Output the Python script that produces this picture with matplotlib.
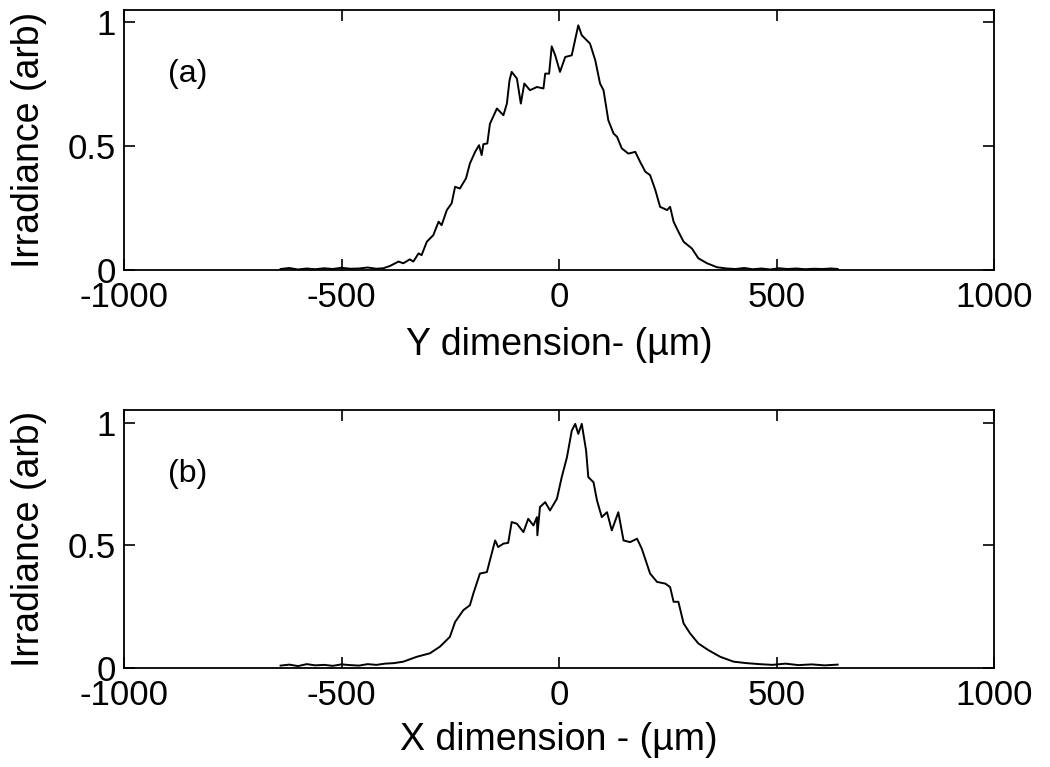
import matplotlib.pyplot as plt

plt.rcParams['font.family'] = ['Liberation Sans', 'DejaVu Sans']
plt.rcParams['axes.unicode_minus'] = False

# beam profile along Y (panel a)
y_pos = [-640, -620, -600, -580, -560, -540, -520, -500, -480, -460, -440, -420, -404,
         -389, -369, -358, -343, -335, -323, -316, -304, -289, -277, -270, -258, -247,
         -239, -228, -214, -205, -193, -184, -178, -174, -165, -159, -143, -128, -120,
         -114, -109, -97, -88, -80, -67, -51, -36,
         -32, -23, -17, -9, 2, 14, 29, 44, 52, 71, 83, 94, 102, 113, 125, 133, 144, 159,
         175, 186, 198, 209, 221, 232, 248, 255, 263, 274, 286, 305, 320, 340, 363,
         385, 405, 425, 445, 465, 485, 505, 525, 545, 565, 585, 605, 625, 640]
y_irr = [0.004, 0.008, 0.002, 0.006, 0.003, 0.007, 0.004, 0.009, 0.005, 0.006, 0.010, 0.005, 0.007,
         0.016, 0.034, 0.027, 0.043, 0.034, 0.067, 0.060, 0.114, 0.141, 0.195, 0.181, 0.242, 0.269,
         0.336, 0.329, 0.370, 0.430, 0.477, 0.504, 0.464, 0.508, 0.511, 0.590, 0.652, 0.625, 0.672,
         0.766, 0.800, 0.773, 0.672, 0.753, 0.726, 0.739, 0.733,
         0.793, 0.793, 0.903, 0.867, 0.800, 0.860, 0.867, 0.988, 0.948, 0.914, 0.847, 0.753, 0.726, 0.605, 0.551, 0.538, 0.491, 0.470,
         0.477, 0.437, 0.397, 0.383, 0.323, 0.255, 0.242, 0.255, 0.195, 0.155, 0.114, 0.087, 0.047, 0.027, 0.011,
         0.006, 0.004, 0.008, 0.003, 0.006, 0.002, 0.007, 0.004, 0.006, 0.003, 0.005, 0.004, 0.006, 0.004]

# beam profile along X (panel b)
x_pos = [-640, -620, -600, -580, -560, -540, -520, -500, -480, -460, -440, -420, -400, -380,
         -358, -327, -297, -274, -251, -239, -220, -205, -197, -182, -166, -159, -147, -140,
         -128, -117, -109, -97, -82, -71, -59, -51, -50, -44, -32, -21, -5, 6, 18, 29, 37,
         44, 52, 62, 67, 79, 87, 98, 110, 121, 136, 148, 163, 179, 190, 209, 225, 244, 255,
         263, 274, 286, 301, 320, 343, 370, 401, 431, 460, 490, 520, 550, 580, 610, 640]
x_irr = [0.010, 0.014, 0.008, 0.016, 0.011, 0.013, 0.009, 0.015, 0.012, 0.010, 0.016, 0.013, 0.018, 0.020,
         0.026, 0.046, 0.060, 0.087, 0.127, 0.188, 0.236, 0.256, 0.304, 0.385, 0.391, 0.439, 0.520, 0.493,
         0.507, 0.510, 0.595, 0.588, 0.554, 0.608, 0.581, 0.615, 0.541, 0.656, 0.676, 0.642, 0.690, 0.778, 0.859, 0.967, 0.995,
         0.954, 0.995, 0.886, 0.778, 0.757, 0.683, 0.615, 0.635, 0.561, 0.635, 0.520, 0.513, 0.527, 0.486, 0.385, 0.351, 0.344, 0.330,
         0.270, 0.270, 0.182, 0.141, 0.100, 0.073, 0.046, 0.026, 0.020, 0.016, 0.013, 0.018, 0.012, 0.015, 0.011, 0.014]

fig = plt.figure(figsize=(10.5, 7.67), dpi=100)
ax1 = fig.add_axes([0.118, 0.648, 0.829, 0.339])
ax2 = fig.add_axes([0.118, 0.129, 0.829, 0.336])

panels = [(ax1, y_pos, y_irr, 'Y dimension- (\u00b5m)', '(a)', -0.288),
          (ax2, x_pos, x_irr, 'X dimension - (\u00b5m)', '(b)', -0.279)]

for ax, pos, irr, xlab, tag, xl_y in panels:
    ax.plot(pos, irr, color='black', lw=1.4)
    ax.set_xlim(-1000, 1000)
    ax.set_ylim(0, 1.05)
    ax.set_xticks([-1000, -500, 0, 500, 1000])
    ax.set_yticks([0, 0.5, 1])
    ax.set_yticklabels(['0', '0.5', '1'])
    ax.tick_params(direction='in', top=True, right=True, length=8, width=1.2,
                   labelsize=25)
    ax.tick_params(axis='x', pad=8)
    ax.tick_params(axis='y', pad=6)
    for sp in ax.spines.values():
        sp.set_linewidth(1.3)
    ax.set_xlabel(xlab, fontsize=27, va='center')
    ax.xaxis.set_label_coords(0.5, xl_y)
    ax.set_ylabel('Irradiance (arb)', fontsize=27, va='center')
    ax.yaxis.set_label_coords(-0.109, 0.5)
    ax.text(-853, 0.79, tag, fontsize=23, ha='center', va='center')

fig.savefig('out.png', dpi=100)
